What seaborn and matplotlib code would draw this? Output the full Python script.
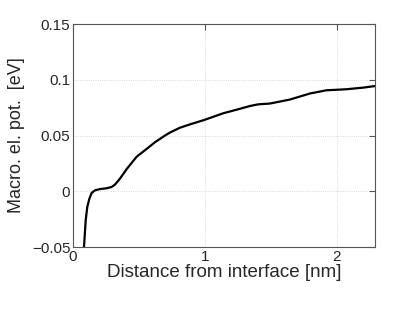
import numpy as np
import pandas as pd
import matplotlib
matplotlib.use("Agg")
import matplotlib.pyplot as plt
import seaborn as sns

# values
distance = [0.083, 0.096, 0.108, 0.124, 0.141, 0.167, 0.205, 0.255, 0.293, 0.318,
            0.356, 0.407, 0.482, 0.558, 0.621, 0.697, 0.735, 0.810, 0.886, 0.995,
            1.139, 1.265, 1.341, 1.404, 1.492, 1.644, 1.795, 1.920, 2.070, 2.200, 2.290]
potential = [-0.050, -0.026, -0.014, -0.0066, -0.0015, 0.0009, 0.002, 0.0027, 0.0039, 0.006,
             0.0114, 0.020, 0.031, 0.038, 0.044, 0.050, 0.0527, 0.057, 0.060, 0.064,
             0.070, 0.074, 0.0765, 0.078, 0.0787, 0.0823, 0.0877, 0.0906, 0.0915, 0.093, 0.0944]

x_ticks = [0, 1, 2]
y_ticks = [-0.05, 0, 0.05, 0.1, 0.15]
y_tick_labels = ["\u22120.05", "0", "0.05", "0.1", "0.15"]

df = pd.DataFrame({"distance": distance, "potential": potential})

sns.set_style("whitegrid", {"grid.linestyle": ":", "grid.color": "#cfcfcf",
                            "axes.edgecolor": "#555555"})
plt.rcParams["font.family"] = ["Liberation Sans", "DejaVu Sans"]
plt.rcParams["grid.linewidth"] = 0.6

fig = plt.figure(figsize=(4.15, 3.21), dpi=100)
ax = fig.add_axes([0.176, 0.2305, 0.728, 0.6945])

sns.lineplot(data=df, x="distance", y="potential", color="black", linewidth=1.6, ax=ax)

ax.set_xlim(0, 2.29)
ax.set_ylim(-0.05, 0.15)
ax.set_xticks(x_ticks)
ax.set_xticklabels([str(t) for t in x_ticks])
ax.set_yticks(y_ticks)
ax.set_yticklabels(y_tick_labels)
ax.tick_params(direction="in", top=True, right=True, length=4, width=0.8,
               labelsize=11, color="#555555", pad=2)
for s in ax.spines.values():
    s.set_linewidth(0.8)
    s.set_visible(True)

ax.set_xlabel("Distance from interface [nm]", fontsize=13.5, labelpad=0)
ax.set_ylabel("Macro. el. pot.  [eV]", fontsize=13, labelpad=5)

fig.savefig("out.png", dpi=100, facecolor="white")
